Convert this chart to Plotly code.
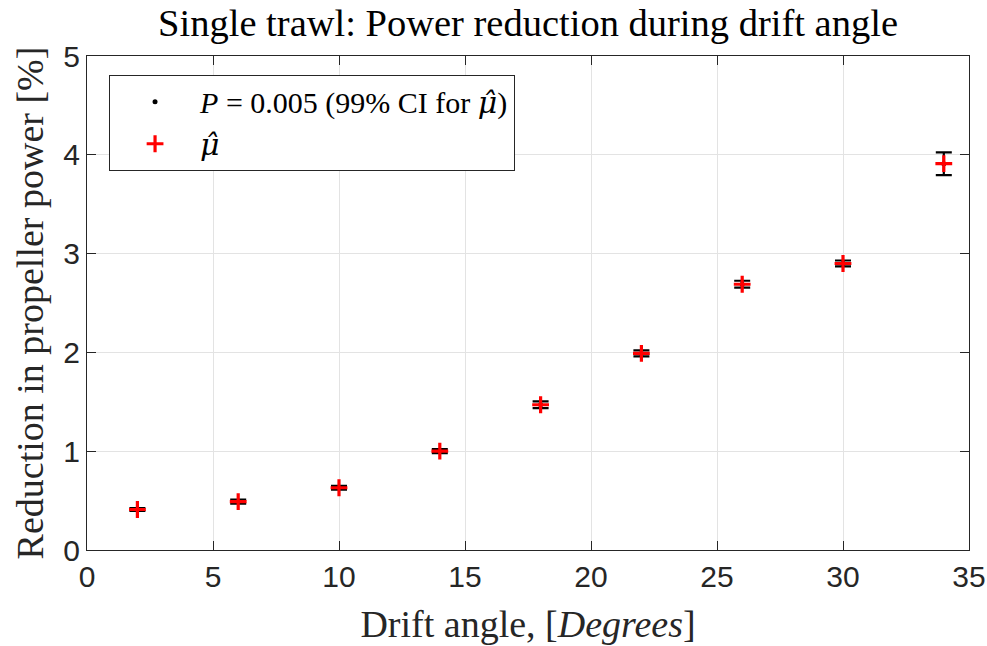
import plotly.graph_objects as go

# Drift angle test points and measured power reduction
drift_angle = [2, 6, 10, 14, 18, 22, 26, 30, 34]
mu_hat = [0.41, 0.49, 0.63, 1.00, 1.47, 1.99, 2.69, 2.90, 3.91]
ci_half = [0.015, 0.02, 0.02, 0.02, 0.035, 0.03, 0.035, 0.03, 0.115]

x_ticks = [0, 5, 10, 15, 20, 25, 30, 35]
y_ticks = [0, 1, 2, 3, 4, 5]

serif = "Liberation Serif, DejaVu Serif, serif"
sans = "Liberation Sans, Arial, sans-serif"
mu_hat_txt = '<span style="font-family:DejaVu Serif"><i>μ̂</i></span>'

fig = go.Figure()

fig.add_trace(go.Scatter(
    x=drift_angle, y=mu_hat, mode="markers",
    name="<i>P</i> = 0.005 (99% CI for " + mu_hat_txt + ")",
    marker=dict(color="black", size=5),
    error_y=dict(type="data", array=ci_half, visible=True,
                 color="black", thickness=2.2, width=8),
))

fig.add_trace(go.Scatter(
    x=drift_angle, y=mu_hat, mode="markers",
    name=mu_hat_txt,
    marker=dict(symbol="cross-thin", size=12, color="red",
                line=dict(color="red", width=3.2)),
))

axis_common = dict(
    showline=True, linecolor="#262626", linewidth=1, mirror="ticks",
    ticks="inside", ticklen=9, tickcolor="#262626",
    showgrid=True, gridcolor="#e3e3e3", gridwidth=1,
    zeroline=False, automargin=False,
    tickfont=dict(family=sans, size=30, color="#262626"),
)

fig.update_xaxes(range=[0, 35], tickvals=x_ticks,
                 title=dict(text="Drift angle, [<i>Degrees</i>]",
                            font=dict(family=serif, size=38, color="#262626"),
                            standoff=18),
                 **axis_common)
fig.update_yaxes(range=[0, 5], tickvals=y_ticks,
                 title=dict(text="Reduction in propeller power [%]",
                            font=dict(family=serif, size=38, color="#262626"),
                            standoff=8),
                 **axis_common)

fig.update_layout(
    width=987, height=646,
    margin=dict(l=87, r=18, t=56, b=96),
    paper_bgcolor="white", plot_bgcolor="white",
    title=dict(text="Single trawl: Power reduction during drift angle",
               font=dict(family=serif, size=38.5, color="black"),
               x=0.535, xref="container", xanchor="center",
               y=0.965, yanchor="middle"),
    legend=dict(x=0.025, y=0.962, xanchor="left", yanchor="top",
                bgcolor="white", bordercolor="#262626", borderwidth=1,
                font=dict(family=serif, size=30, color="black"),
                itemwidth=80),
    showlegend=True,
)

fig.write_html("out.html")
